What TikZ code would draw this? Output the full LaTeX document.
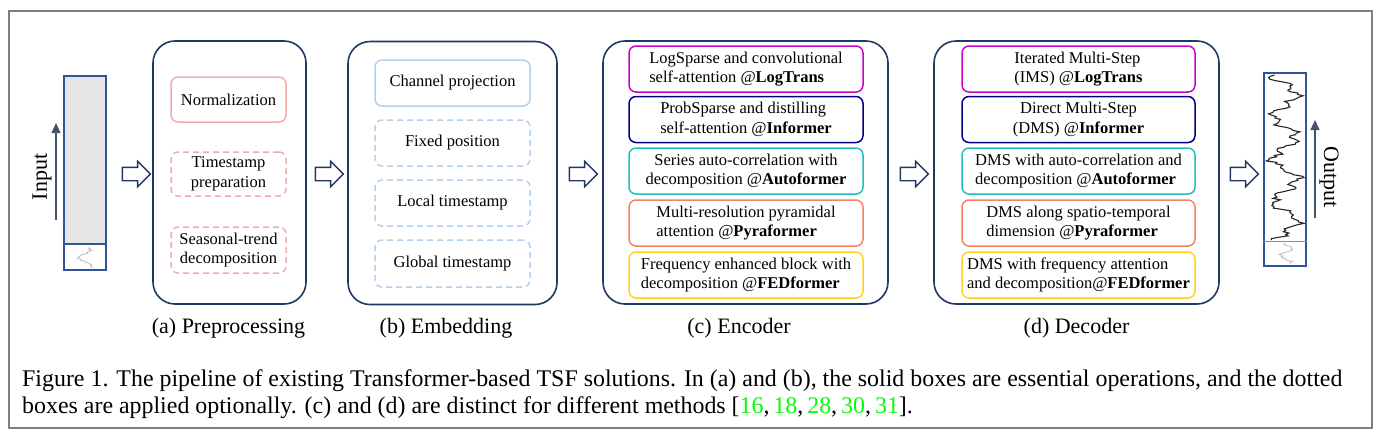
\documentclass[tikz,border=0pt]{standalone}
\usepackage{fontspec}
\setmainfont{Liberation Serif}
\usetikzlibrary{shapes.arrows,arrows.meta}
\definecolor{navyb}{HTML}{203864}
\definecolor{barb}{HTML}{2F5597}
\definecolor{arrg}{HTML}{44546A}
\definecolor{pinkb}{HTML}{F2AAAA}
\definecolor{lblue}{HTML}{B4D0EC}
\definecolor{cmag}{HTML}{CC00CC}
\definecolor{cnavy}{HTML}{00007F}
\definecolor{cteal}{HTML}{20BFBF}
\definecolor{ccoral}{HTML}{F98060}
\definecolor{cgold}{HTML}{FFD21F}
\definecolor{cgreen}{HTML}{00FF00}
\definecolor{framec}{HTML}{808080}
\begin{document}
\begin{tikzpicture}[x=1pt,y=-1pt,
  bigbox/.style={draw=navyb, line width=1.6pt, rounded corners=22pt, minimum width=#1, minimum height=263pt, inner sep=0pt},
  ibox/.style={draw=#1, line width=1.5pt, rounded corners=7pt, inner sep=0pt, font=\fontsize{16.5}{19.5}\selectfont},
  optbox/.style={ibox=#1, dash pattern=on 6pt off 4pt},
  harrow/.style={single arrow, draw=navyb, line width=1.4pt, fill=white, minimum height=28pt, inner sep=6pt, single arrow head extend=6pt},
  lbl/.style={font=\fontsize{22}{22}\selectfont},
  uparr/.style={arrg, line width=1.4pt, -{Triangle[length=10pt,width=9pt]}},
  barbox/.style={draw=barb, line width=1.6pt, minimum width=42pt, inner sep=0pt}
]
\useasboundingbox (0,0) rectangle (1383,437);
\node[draw=framec, line width=1.5pt, minimum width=1363pt, minimum height=417pt, inner sep=0pt] (frame) at (690.5,219.5) {};

% input bar
\fill[black!10] (64,76) rectangle (106,244);
\pgfmathsetseed{5}
\draw[black!25, line width=0.8pt] plot[domain=247:268, samples=25] ({85+6*sin(\x*22)+2*rand}, \x);
\node[barbox, minimum height=194pt] (inbar) at (85,173) {};
\draw[barb, line width=1.4pt] (inbar.west |- 0,244) coordinate (indl) -- (inbar.east |- 0,244) coordinate (indr);
\coordinate (ia1) at (56,220);
\coordinate (ia2) at (56,123);
\draw[uparr] (ia1) -- (ia2);
\node[rotate=90, lbl] (inlbl) at (42,177) {Input};

% arrows
\node[harrow] (h1) at (133,174) {};
\node[harrow] (h2) at (326,174) {};
\node[harrow] (h3) at (580,174) {};
\node[harrow] (h4) at (911,174) {};
\node[harrow] (h5) at (1241,174) {};

% (a) preprocessing
\node[bigbox=153pt] (pre) at (229.5,172.5) {};
\node[ibox=pinkb, minimum width=115pt, minimum height=45pt] (norm) at (228.5,99.5) {Normalization};
\node[optbox=pinkb, minimum width=115pt, minimum height=44pt, align=center] (tsp) at (228.5,174) {Timestamp\\preparation};
\node[optbox=pinkb, minimum width=115pt, minimum height=46pt, align=center] (stdec) at (228.5,250) {Seasonal-trend\\decomposition};
\node[lbl] (la) at (228.5,328) {(a) Preprocessing};

% (b) embedding
\node[bigbox=209pt] (emb) at (452.5,173) {};
\node[ibox=lblue, minimum width=155pt, minimum height=46pt] (chp) at (452.5,83) {Channel projection};
\node[optbox=lblue, minimum width=155pt, minimum height=46pt] (fxp) at (452.5,143) {Fixed position};
\node[optbox=lblue, minimum width=155pt, minimum height=46pt] (lts) at (452.5,203) {Local timestamp};
\node[optbox=lblue, minimum width=155pt, minimum height=47pt] (gts) at (452.5,263.5) {Global timestamp};
\node[lbl] (lb) at (446,328) {(b) Embedding};

% (c) encoder
\node[bigbox=285pt] (enc) at (745.5,172.5) {};
\node[ibox=cmag, minimum width=234pt, minimum height=46pt, align=left] (e1) at (746,69) {LogSparse and convolutional\\self-attention @\textbf{LogTrans}};
\node[ibox=cnavy, minimum width=234pt, minimum height=46pt, align=left] (e2) at (746,119.5) {ProbSparse and distilling\\self-attention @\textbf{Informer}};
\node[ibox=cteal, minimum width=234pt, minimum height=46pt, align=center] (e3) at (746,171) {Series auto-correlation with\\decomposition @\textbf{Autoformer}};
\node[ibox=ccoral, minimum width=234pt, minimum height=46pt, align=left] (e4) at (746,223) {Multi-resolution pyramidal\\attention @\textbf{Pyraformer}};
\node[ibox=cgold, minimum width=234pt, minimum height=46pt, align=left] (e5) at (746,275) {Frequency enhanced block with\\decomposition @\textbf{FEDformer}};
\node[lbl] (lc) at (739,328) {(c) Encoder};

% (d) decoder
\node[bigbox=285pt] (dec) at (1076.5,172.5) {};
\node[ibox=cmag, minimum width=233pt, minimum height=46pt, align=left] (d1) at (1078.5,69) {Iterated Multi-Step\\(IMS) @\textbf{LogTrans}};
\node[ibox=cnavy, minimum width=233pt, minimum height=46pt, align=center] (d2) at (1078.5,119.5) {Direct Multi-Step\\(DMS) @\textbf{Informer}};
\node[ibox=cteal, minimum width=233pt, minimum height=46pt, align=left] (d3) at (1078.5,171) {DMS with auto-correlation and\\decomposition @\textbf{Autoformer}};
\node[ibox=ccoral, minimum width=233pt, minimum height=46pt, align=left] (d4) at (1078.5,223) {DMS along spatio-temporal\\dimension @\textbf{Pyraformer}};
\node[ibox=cgold, minimum width=233pt, minimum height=46pt, align=left, inner xsep=0pt] (d5) at (1078.5,275) {DMS with frequency attention\\and decomposition@\textbf{FEDformer}};
\node[lbl] (ld) at (1076.5,328) {(d) Decoder};

% output bar
\pgfmathsetseed{11}
\draw[black!85, line width=1.1pt] plot[domain=75:240, samples=120] ({1285+12*sin(\x*8.5)+5*sin(\x*31)+3.5*rand}, \x);
\draw[black!25, line width=0.8pt] plot[domain=243:264, samples=25] ({1286+6*sin(\x*25)+2*rand}, \x);
\node[barbox, minimum height=193pt] (outbar) at (1285,169.5) {};
\draw[black!45, line width=0.8pt] (outbar.west |- 0,241) coordinate (outdl) -- (outbar.east |- 0,241) coordinate (outdr);
\coordinate (oa1) at (1315,218);
\coordinate (oa2) at (1315,120);
\draw[uparr] (oa1) -- (oa2);
\node[rotate=-90, lbl] (outlbl) at (1329,177) {Output};

% caption
\node[anchor=west, align=left, inner sep=0pt, font=\fontsize{23.9}{27}\selectfont] (cap) at (22,394.5) {Figure 1. The pipeline of existing Transformer-based TSF solutions. In (a) and (b), the solid boxes are essential operations, and the dotted\\boxes are applied optionally. (c) and (d) are distinct for different methods [\textcolor{cgreen}{16},\,\textcolor{cgreen}{18},\,\textcolor{cgreen}{28},\,\textcolor{cgreen}{30},\,\textcolor{cgreen}{31}].};
\end{tikzpicture}
\end{document}
